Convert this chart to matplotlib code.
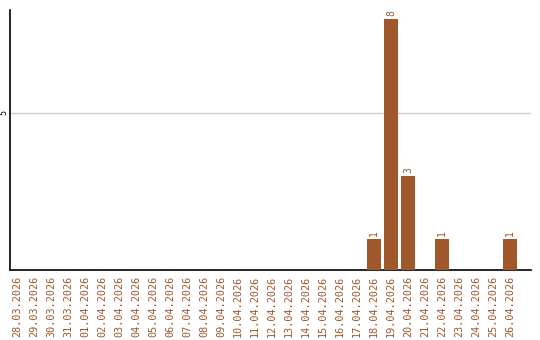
import matplotlib
matplotlib.use("Agg")
import matplotlib.pyplot as plt
import numpy as np

# ── Data ─────────────────────────────────────────────
dates = [
    "28.03.2026", "29.03.2026", "30.03.2026", "31.03.2026", "01.04.2026",
    "02.04.2026", "03.04.2026", "04.04.2026", "05.04.2026", "06.04.2026",
    "07.04.2026", "08.04.2026", "09.04.2026", "10.04.2026", "11.04.2026",
    "12.04.2026", "13.04.2026", "14.04.2026", "15.04.2026", "16.04.2026",
    "17.04.2026", "18.04.2026", "19.04.2026", "20.04.2026", "21.04.2026",
    "22.04.2026", "23.04.2026", "24.04.2026", "25.04.2026", "26.04.2026",
]
counts = [0] * 21 + [1, 8, 3, 0, 1, 0, 0, 0, 1]
y_ticks = [5]

BAR_COLOR = "#a0572a"
LABEL_COLOR = "#a0572a"

fig = plt.figure(figsize=(5.4, 3.4), dpi=100)
ax = fig.add_axes([0.0194, 0.206, 0.9639, 0.7646])

x = np.arange(len(dates))
bars = ax.bar(x, counts, width=0.82, color=BAR_COLOR, zorder=3)

for xi, v in zip(x, counts):
    if v > 0:
        ax.text(xi, v + 0.08, str(v), rotation=90, ha="center", va="bottom",
                fontsize=7, family="DejaVu Sans Mono", color="#8a5a3a")

ax.set_xlim(-0.38, 30.24)
ax.set_ylim(0, 8.28)
ax.set_xticks(x)
ax.set_xticklabels(dates, rotation=90, fontsize=7.3, family="DejaVu Sans Mono",
                   color=LABEL_COLOR)
ax.set_yticks(y_ticks)
ax.set_yticklabels([str(t) for t in y_ticks], rotation=90, fontsize=6,
                   va="center", family="DejaVu Sans Mono")
ax.tick_params(axis="x", length=0, pad=4)
ax.tick_params(axis="y", length=0, pad=1.5)
ax.yaxis.grid(True, color="#cccccc", linewidth=1, zorder=0)

for s in ["top", "right"]:
    ax.spines[s].set_visible(False)
ax.spines["left"].set_linewidth(1.2)
ax.spines["bottom"].set_linewidth(1.2)

fig.savefig("out.png", dpi=100)
